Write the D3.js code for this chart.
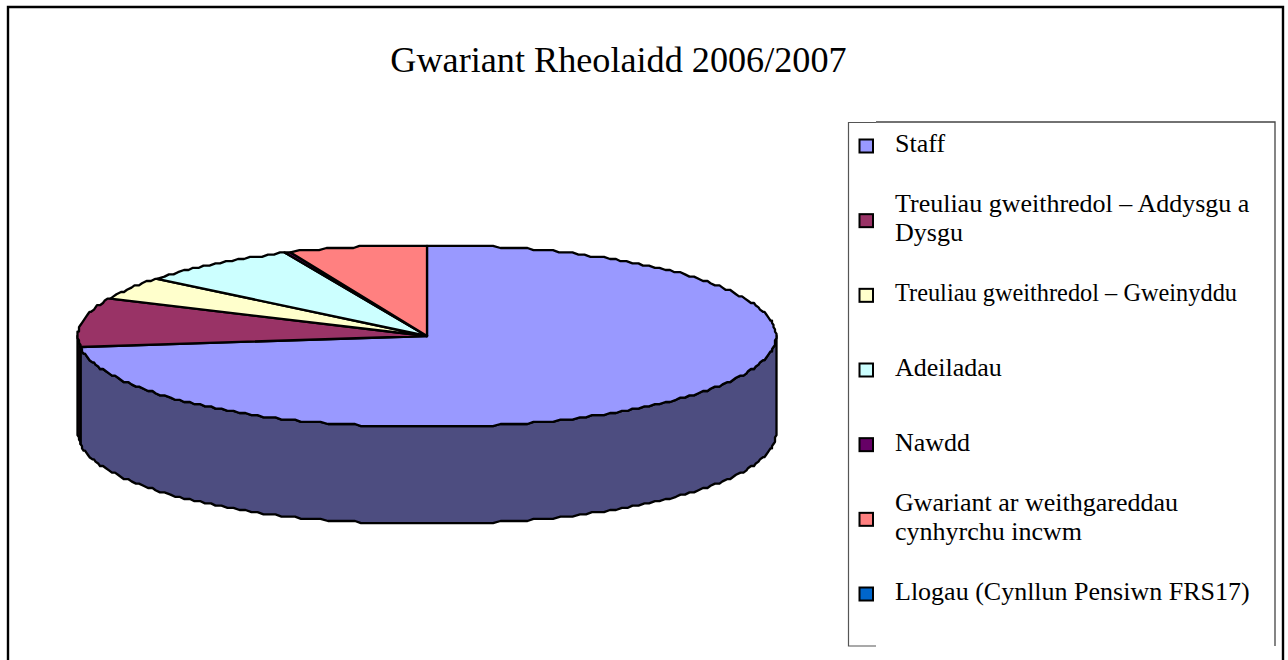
<!DOCTYPE html>
<html><head><meta charset="utf-8">
<script src="https://cdn.jsdelivr.net/npm/d3@7/dist/d3.min.js"></script>
<style>html,body{margin:0;background:#fff}svg{display:block}text{font-family:"Liberation Serif",serif;fill:#000}</style>
</head><body><svg id="c" width="1288" height="660"></svg>
<script>
const title = "Gwariant Rheolaidd 2006/2007";
const categories = ["Staff","Treuliau gweithredol – Addysgu a Dysgu","Treuliau gweithredol – Gweinyddu","Adeiladau","Nawdd","Gwariant ar weithgareddau cynhyrchu incwm","Llogau (Cynllun Pensiwn FRS17)"];
const legendLines = [["Staff"],["Treuliau gweithredol – Addysgu a","Dysgu"],["Treuliau gweithredol – Gweinyddu"],["Adeiladau"],["Nawdd"],["Gwariant ar weithgareddau","cynhyrchu incwm"],["Llogau (Cynllun Pensiwn FRS17)"]];
const values = [73.05,8.8,4.1,7.35,0.3,6.4,0];
const colors = ["#9999ff","#993366","#ffffcc","#ccffff","#660066","#ff8080","#0066cc"];
const wallColors = ["#4d4d80","#1a0a12","#808066","#668080","#330033","#804040","#003366"];

const svg = d3.select("#c");
const cx=427, cy=336, rx=349, ry=91, depth=97;

// outer frame
svg.append("path").attr("d","M8,660V7H1283V660").attr("fill","none").attr("stroke","#000").attr("stroke-width",2.4);

svg.append("text").attr("x",618.5).attr("y",72).attr("text-anchor","middle").attr("font-size",36.2).text(title);

const pie = d3.pie().sort(null).value(d=>d);
const arcs = pie(values);
const g = svg.append("g");

// The source's rim is a slightly wobbly, quantised outline: snap rim points to a small grid
const gx=1.5, gy=2.2, step=0.02;
const px = a=>cx+Math.round(rx*Math.sin(a)/gx)*gx;
const py = a=>cy+Math.round(-ry*Math.cos(a)/gy)*gy;
const sample = (s,e)=>{
  const inner=d3.range(Math.ceil(s/step)*step+step/2,e-step/2,step);
  return [s,...inner,e];
};

// side wall
const sideArea = d3.area().x(px).y0(py).y1(a=>py(a)+depth);
arcs.forEach((a,i)=>{
  const s=Math.max(a.startAngle,Math.PI/2), e=Math.min(a.endAngle,Math.PI*1.5);
  if(e<=s) return;
  g.append("path").attr("d",sideArea(sample(s,e))).attr("fill",wallColors[i]).attr("stroke","#000").attr("stroke-width",2.3).attr("stroke-linejoin","round");
});

// top face
const line = d3.line();
g.append("g").selectAll("path").data(arcs.filter(a=>a.value>0)).join("path")
 .attr("d",d=>line([[cx,cy],...sample(d.startAngle,d.endAngle).map(a=>[px(a),py(a)])])+"Z")
 .attr("fill",d=>colors[d.index]).attr("stroke","#000").attr("stroke-width",2.3).attr("stroke-linejoin","round");

// legend frame
const lg = svg.append("g");
lg.append("path").attr("d","M876,122H1275V646").attr("fill","none").attr("stroke","#444").attr("stroke-width",1.3);
lg.append("path").attr("d","M876,122.5H848.5V646H876").attr("fill","none").attr("stroke","#555").attr("stroke-width",1.2);

const itemY = d3.scalePoint().domain(categories).range([146,594]);
const lh=29.5;
categories.forEach((c,i)=>{
  const y=itemY(c);
  lg.append("rect").attr("x",859.5).attr("y",y-6.5).attr("width",13.5).attr("height",13).attr("fill",colors[i]).attr("stroke","#000").attr("stroke-width",2);
  const lines=legendLines[i];
  const y0=y+6-(lines.length-1)*lh/2;
  lines.forEach((t,k)=>{
    const el=lg.append("text").attr("x",895).attr("y",y0+k*lh).attr("font-size",26).text(t);
    if(i===2) el.attr("textLength",342).attr("lengthAdjust","spacingAndGlyphs");
  });
});
</script></body></html>
